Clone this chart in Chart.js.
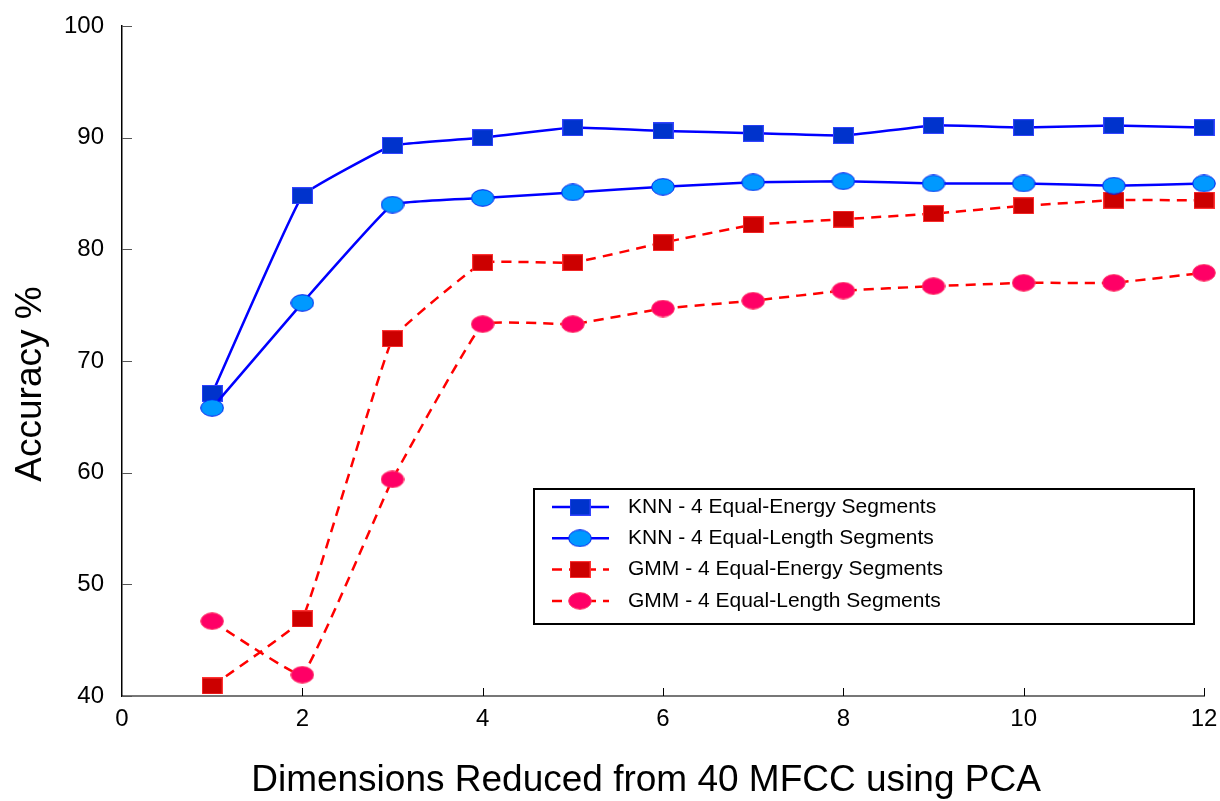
<!DOCTYPE html>
<html lang="en">
<head>
    <meta charset="UTF-8">
    <title>Accuracy vs PCA Dimensions</title>
    <script src="https://cdnjs.cloudflare.com/ajax/libs/Chart.js/4.4.0/chart.umd.min.js"></script>
    <style>
        html, body { margin: 0; padding: 0; background: #fff; }
        #wrap { width: 1220px; height: 801px; }
    </style>
</head>
<body>
    <div id="wrap"><canvas id="accChart" width="1220" height="801"></canvas></div>

    <script>
        // data
        const dims = [1, 2, 3, 4, 5, 6, 7, 8, 9, 10, 11, 12];
        const knnEnergy = [67.1, 84.8, 89.3, 90.0, 90.9, 90.6, 90.4, 90.2, 91.1, 90.9, 91.1, 90.9];
        const knnLength = [65.8, 75.2, 84.0, 84.6, 85.1, 85.6, 86.0, 86.1, 85.9, 85.9, 85.7, 85.9];
        const gmmEnergy = [40.9, 46.9, 72.0, 78.8, 78.8, 80.6, 82.2, 82.7, 83.2, 83.9, 84.4, 84.4];
        const gmmLength = [46.7, 41.9, 59.4, 73.3, 73.3, 74.7, 75.4, 76.3, 76.7, 77.0, 77.0, 77.9];
        const seriesLabels = [
            'KNN - 4 Equal-Energy Segments',
            'KNN - 4 Equal-Length Segments',
            'GMM - 4 Equal-Energy Segments',
            'GMM - 4 Equal-Length Segments'
        ];
        const xTitle = 'Dimensions Reduced from 40 MFCC using PCA';
        const yTitle = 'Accuracy %';

        const FONT = "'Liberation Sans', Arial, sans-serif";

        // marker images (square / ellipse)
        function makeMarker(shape, w, h, fill, stroke) {
            const c = document.createElement('canvas');
            c.width = w; c.height = h;
            const g = c.getContext('2d');
            g.fillStyle = fill;
            g.strokeStyle = stroke;
            g.lineWidth = 1;
            if (shape === 'rect') {
                g.fillRect(0, 0, w, h);
                g.strokeRect(0.5, 0.5, w - 1, h - 1);
            } else {
                g.beginPath();
                g.ellipse(w / 2, h / 2, w / 2 - 0.7, h / 2 - 0.7, 0, 0, Math.PI * 2);
                g.fill();
                g.stroke();
            }
            return c;
        }

        const mkKnnE = makeMarker('rect', 21, 17, '#0033cc', '#3344ff');
        const mkKnnL = makeMarker('ellipse', 24, 18, '#0099ff', '#0022ee');
        const mkGmmE = makeMarker('rect', 21, 17, '#cc0000', '#ff3333');
        const mkGmmL = makeMarker('ellipse', 24, 18, '#ff0066', '#ff3366');

        function toPoints(arr) {
            return dims.map((d, i) => ({ x: d, y: arr[i] }));
        }

        // inward tick marks, axis titles, legend box
        const extrasPlugin = {
            id: 'extras',
            afterDraw(chart) {
                const ctx = chart.ctx;
                const xs = chart.scales.x, ys = chart.scales.y;
                const area = chart.chartArea;
                ctx.save();
                ctx.lineWidth = 1;
                ctx.strokeStyle = '#555';
                ys.ticks.forEach(t => {
                    const py = Math.round(ys.getPixelForValue(t.value)) + 0.5;
                    ctx.beginPath();
                    ctx.moveTo(area.left, py);
                    ctx.lineTo(area.left + 10, py);
                    ctx.stroke();
                });
                ctx.strokeStyle = '#000';
                xs.ticks.forEach(t => {
                    if (t.value === 0) return;
                    const px = Math.round(xs.getPixelForValue(t.value)) + 0.5;
                    ctx.beginPath();
                    ctx.moveTo(px, area.bottom);
                    ctx.lineTo(px, area.bottom - 8);
                    ctx.stroke();
                });

                // axis titles
                ctx.fillStyle = '#000';
                ctx.textAlign = 'center';
                ctx.textBaseline = 'middle';
                ctx.font = '37px ' + FONT;
                ctx.fillText(xTitle, 646, 781);
                ctx.save();
                ctx.translate(31, 384);
                ctx.rotate(-Math.PI / 2);
                ctx.fillText(yTitle, 0, 0);
                ctx.restore();

                // legend
                const lx = 534, ly = 489, lw = 660, lh = 135;
                ctx.fillStyle = '#fff';
                ctx.fillRect(lx, ly, lw, lh);
                ctx.strokeStyle = '#000';
                ctx.lineWidth = 2;
                ctx.strokeRect(lx, ly, lw, lh);
                ctx.font = '21px ' + FONT;
                ctx.textBaseline = 'middle';
                ctx.textAlign = 'left';
                chart.data.datasets.forEach((ds, i) => {
                    const ry = 507 + i * 31.3;
                    ctx.strokeStyle = ds.borderColor;
                    ctx.lineWidth = ds.borderWidth;
                    ctx.setLineDash(ds.borderDash || []);
                    ctx.beginPath();
                    ctx.moveTo(552, ry);
                    ctx.lineTo(609, ry);
                    ctx.stroke();
                    ctx.setLineDash([]);
                    const img = ds.pointStyle;
                    ctx.drawImage(img, 580 - img.width / 2, ry - img.height / 2);
                    ctx.fillStyle = '#000';
                    ctx.fillText(ds.label, 628, ry);
                });
                ctx.restore();
            }
        };

        function noScalePadding(scale) {
            scale.paddingTop = 0;
            scale.paddingBottom = 0;
            scale.paddingLeft = 0;
            scale.paddingRight = 0;
        }

        const ctx = document.getElementById('accChart').getContext('2d');
        const chartAcc = new Chart(ctx, {
            type: 'line',
            data: {
                datasets: [
                    {
                        label: seriesLabels[0], data: toPoints(knnEnergy),
                        borderColor: '#0000ff', borderWidth: 2.5, pointStyle: mkKnnE, order: 1
                    },
                    {
                        label: seriesLabels[1], data: toPoints(knnLength),
                        borderColor: '#0000ff', borderWidth: 2.5, pointStyle: mkKnnL, order: 0
                    },
                    {
                        label: seriesLabels[2], data: toPoints(gmmEnergy),
                        borderColor: '#ff0000', borderWidth: 2.5, borderDash: [10, 7], pointStyle: mkGmmE, order: 3
                    },
                    {
                        label: seriesLabels[3], data: toPoints(gmmLength),
                        borderColor: '#ff0000', borderWidth: 2.5, borderDash: [10, 7], pointStyle: mkGmmL, order: 2
                    }
                ]
            },
            options: {
                responsive: false,
                animation: false,
                devicePixelRatio: 1,
                clip: false,
                layout: { padding: { left: 0, top: 26, right: 16, bottom: 0 } },
                elements: {
                    line: { tension: 0.08, fill: false },
                    point: { radius: 10 }
                },
                plugins: {
                    legend: { display: false },
                    tooltip: { enabled: false }
                },
                scales: {
                    x: {
                        type: 'linear', min: 0, max: 12,
                        ticks: { stepSize: 2, color: '#000', font: { family: FONT, size: 24 }, padding: 9 },
                        grid: { display: false, drawTicks: false },
                        border: { display: true, color: '#777', width: 2 },
                        afterFit(scale) { scale.height = 105; noScalePadding(scale); }
                    },
                    y: {
                        min: 40, max: 100,
                        ticks: { stepSize: 10, color: '#000', font: { family: FONT, size: 24 }, padding: 18 },
                        grid: { display: false, drawTicks: false },
                        border: { display: true, color: '#000', width: 1.5 },
                        afterFit(scale) { scale.width = 122; noScalePadding(scale); }
                    }
                }
            },
            plugins: [extrasPlugin]
        });
    </script>
</body>
</html>
